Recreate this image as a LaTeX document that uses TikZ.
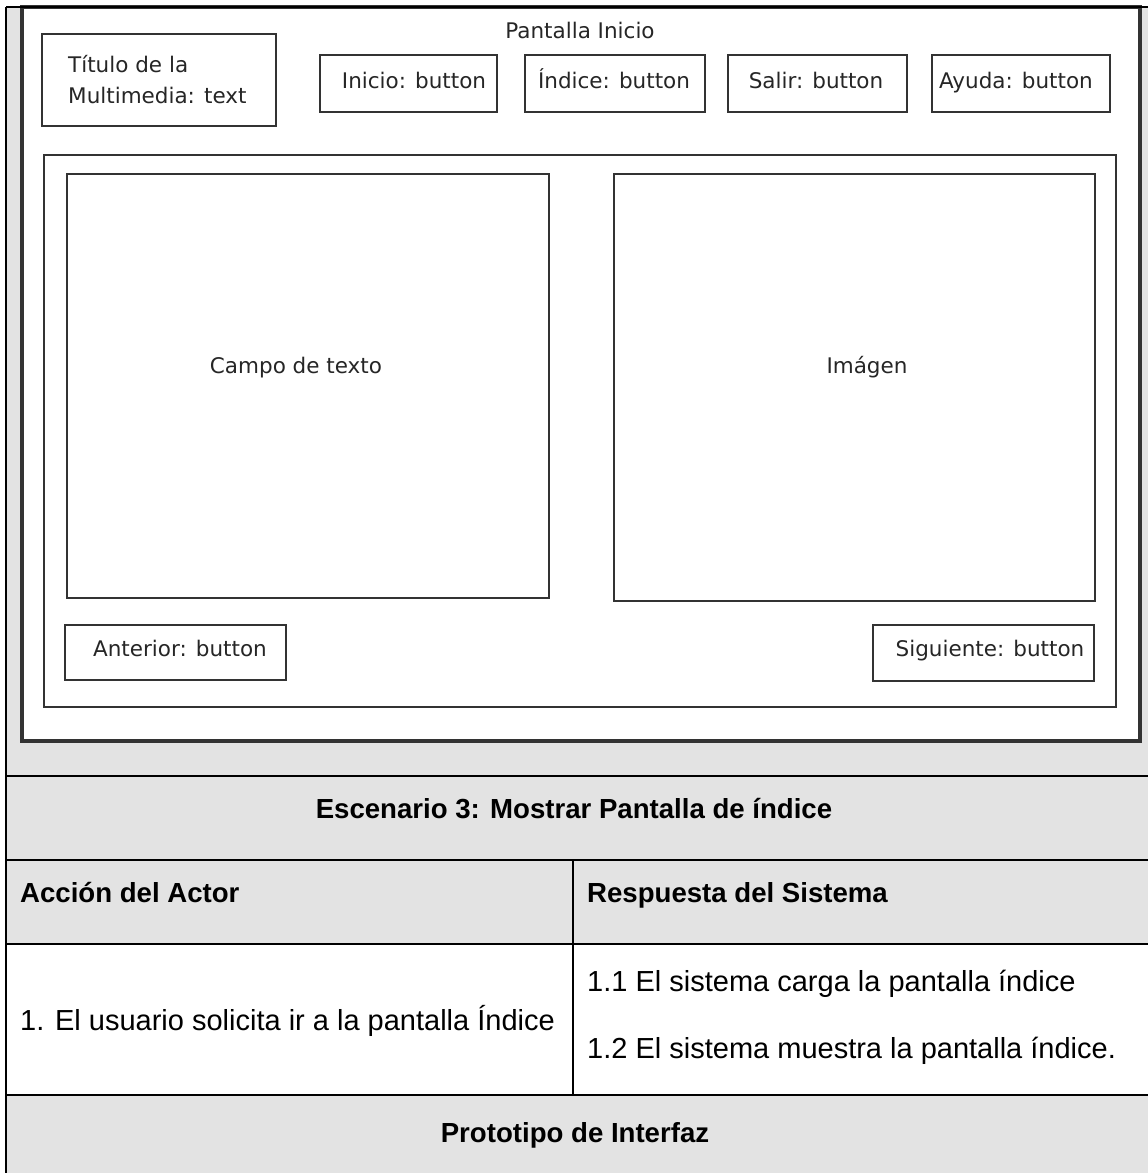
\documentclass[tikz,border=0pt]{standalone}
\usepackage{fontspec}
\setmainfont{Liberation Sans}
\newfontfamily\mockfont{DejaVu Sans}
\definecolor{cellgray}{HTML}{E3E3E3}
\definecolor{wire}{HTML}{333333}
\begin{document}
\begin{tikzpicture}[x=1pt,y=-1pt,
  frame/.style={draw=wire, line width=3.4pt, fill=white},
  widget/.style={draw=wire, line width=2.8pt, fill=white, inner sep=0pt},
  mock/.style={font=\mockfont\fontsize{21.5}{31}\selectfont, text=black!85, inner sep=0pt},
  rule/.style={line width=2.6pt, black},
  head/.style={font=\bfseries\fontsize{27.6}{32}\selectfont, inner sep=0pt},
  body/.style={font=\fontsize{29}{34}\selectfont, inner sep=0pt}]
\useasboundingbox (0,0) rectangle (1148,1173);
% table cells
\fill[cellgray] (6,7) rectangle (1148,944);
\fill[white] (6,944) rectangle (1148,1095);
\fill[cellgray] (6,1095) rectangle (1148,1173);
% screen mock-up
\node[frame, minimum width=1118pt, minimum height=734pt, inner sep=0pt] (screen) at (581,374) {};
\node[mock, anchor=base] (scrtitle) at (580,38) {Pantalla Inicio};
\node[widget, minimum width=234pt, minimum height=92pt] (titlebox) at (159,80) {};
\node[mock, anchor=base west] (titletxt1) at (68,72) {Título de la};
\node[mock, anchor=base west] (titletxt2) at (68,103) {Multimedia: text};
\node[widget, minimum width=177pt, minimum height=57pt] (binicio) at (408.5,83.5) {};
\node[mock, anchor=base] at (414,88) {Inicio: button};
\node[widget, minimum width=180pt, minimum height=57pt] (bindice) at (615,83.5) {};
\node[mock, anchor=base] at (614,88) {Índice: button};
\node[widget, minimum width=179pt, minimum height=57pt] (bsalir) at (817.5,83.5) {};
\node[mock, anchor=base] at (816,88) {Salir: button};
\node[widget, minimum width=178pt, minimum height=57pt] (bayuda) at (1021,83.5) {};
\node[mock, anchor=base] at (1016,88) {Ayuda: button};
\node[widget, minimum width=1072pt, minimum height=552pt] (content) at (580,431) {};
\node[widget, minimum width=482pt, minimum height=424pt] (campo) at (308,386) {};
\node[mock, anchor=base] at (296,373) {Campo de texto};
\node[widget, minimum width=481pt, minimum height=427pt] (imagen) at (854.5,387.5) {};
\node[mock, anchor=base] at (867,373) {Imágen};
\node[widget, minimum width=221pt, minimum height=55pt] (banterior) at (175.5,652.5) {};
\node[mock, anchor=base] at (180,656) {Anterior: button};
\node[widget, minimum width=221pt, minimum height=56pt] (bsiguiente) at (983.5,653) {};
\node[mock, anchor=base] at (990,656) {Siguiente: button};
% table rules
\draw[rule] (6,7) -- (1148,7);
\draw[rule] (6,7) -- (6,1173);
\draw[rule] (6,776) -- (1148,776);
\draw[rule] (6,860) -- (1148,860);
\draw[rule] (6,944) -- (1148,944);
\draw[rule] (6,1095) -- (1148,1095);
\draw[rule] (573,860) -- (573,1095);
% table texts
\node[head, anchor=base] (esc) at (574,818) {Escenario 3: Mostrar Pantalla de índice};
\node[head, anchor=base west] (accion) at (20,902) {Acción del Actor};
\node[head, anchor=base west] (resp) at (587,902) {Respuesta del Sistema};
\node[body, anchor=base west] (paso1) at (20,1030) {1. El usuario solicita ir a la pantalla Índice};
\node[body, anchor=base west] (paso11) at (587,991) {1.1 El sistema carga la pantalla índice};
\node[body, anchor=base west] (paso12) at (587,1058) {1.2 El sistema muestra la pantalla índice.};
\node[head, anchor=base] (proto) at (575,1142) {Prototipo de Interfaz};
\end{tikzpicture}
\end{document}
